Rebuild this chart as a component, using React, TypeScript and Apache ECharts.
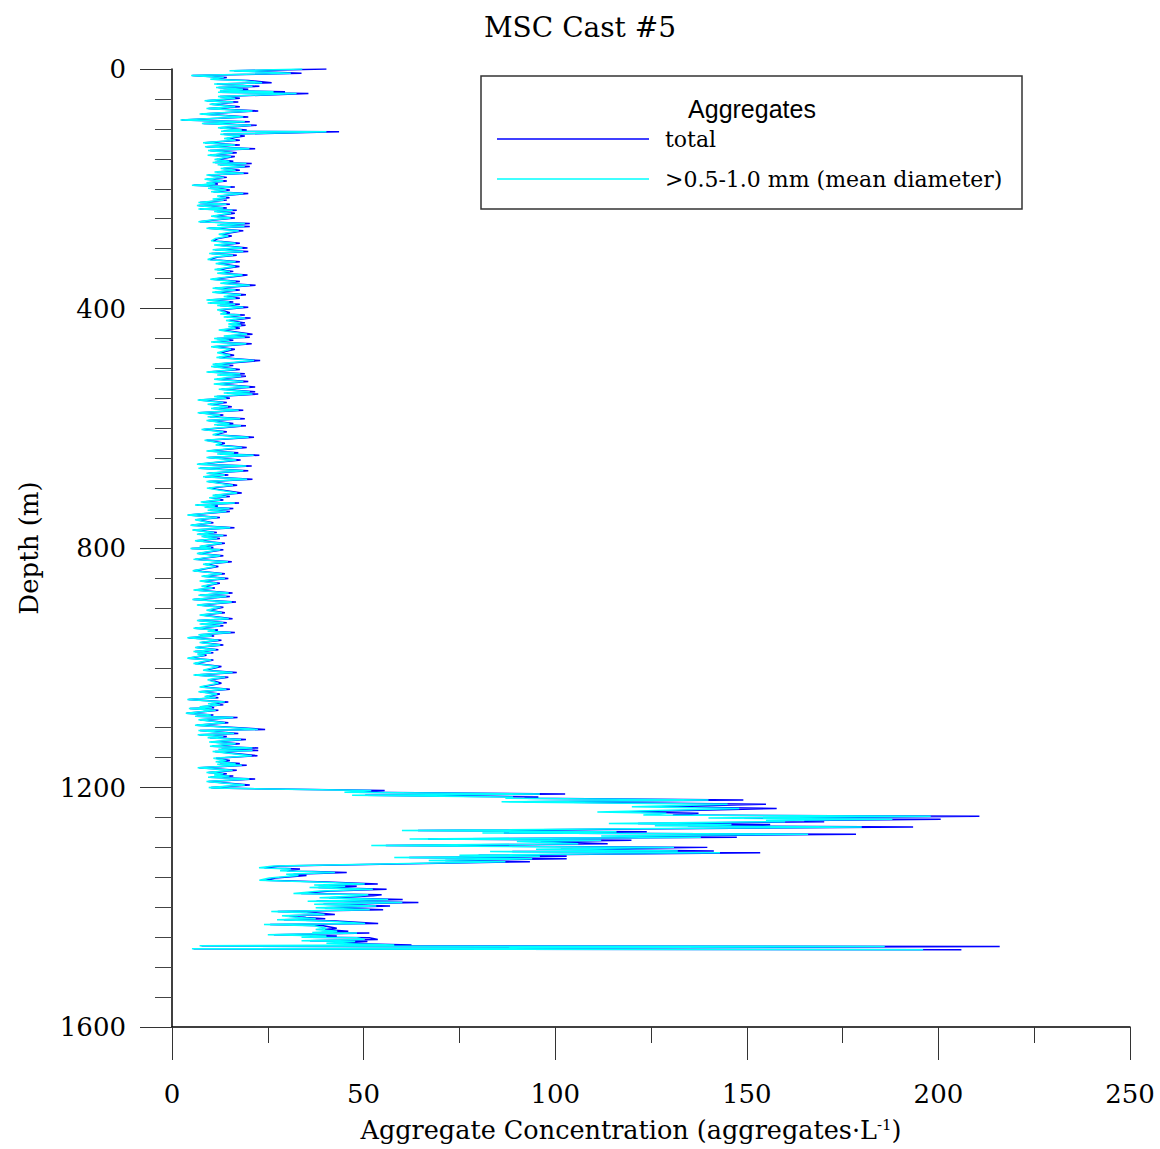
import React, { useEffect, useRef } from "react";
import * as echarts from "echarts";

// Depth of each sample (m)
const depthM = [
  0, 3, 7, 11, 14, 17, 19, 23, 25, 29,
  31, 34, 36, 38, 39, 41, 46, 49, 53, 55,
  59, 63, 66, 70, 75, 80, 85, 88, 91, 94,
  98, 102, 104, 105, 109, 112, 116, 119, 123, 127,
  130, 133, 136, 140, 144, 146, 151, 154, 156, 158,
  160, 163, 166, 169, 172, 174, 177, 181, 184, 187,
  190, 192, 194, 197, 199, 202, 205, 208, 212, 215,
  217, 219, 223, 226, 228, 232, 234, 236, 238, 241,
  246, 249, 252, 255, 258, 261, 263, 266, 270, 276,
  279, 283, 287, 291, 294, 299, 302, 305, 308, 311,
  314, 318, 322, 325, 330, 335, 338, 341, 344, 351,
  355, 358, 361, 366, 369, 373, 377, 380, 383, 386,
  389, 391, 393, 395, 398, 402, 407, 409, 411, 414,
  416, 420, 424, 426, 428, 430, 433, 436, 443, 446,
  448, 450, 453, 456, 459, 464, 468, 474, 478, 482,
  487, 493, 495, 497, 502, 506, 509, 511, 513, 518,
  522, 526, 531, 535, 539, 541, 543, 547, 550, 553,
  557, 560, 564, 567, 570, 574, 578, 581, 584, 587,
  592, 594, 596, 602, 606, 611, 615, 620, 625, 628,
  632, 638, 641, 643, 645, 649, 653, 660, 663, 667,
  671, 675, 678, 681, 685, 689, 695, 700, 708, 712,
  714, 716, 720, 723, 725, 728, 730, 732, 734, 737,
  739, 745, 749, 753, 758, 762, 766, 770, 774, 777,
  779, 781, 784, 788, 792, 797, 799, 801, 803, 809,
  813, 819, 823, 827, 831, 838, 843, 847, 851, 855,
  859, 864, 867, 870, 875, 879, 881, 886, 890, 895,
  899, 904, 908, 912, 918, 921, 925, 927, 930, 934,
  937, 939, 941, 945, 947, 950, 954, 958, 962, 966,
  970, 973, 975, 977, 979, 984, 987, 993, 998, 1004,
  1008, 1012, 1016, 1020, 1026, 1032, 1036, 1040, 1044, 1048,
  1050, 1053, 1057, 1060, 1062, 1065, 1067, 1068, 1071, 1076,
  1079, 1081, 1083, 1087, 1092, 1096, 1103, 1105, 1110, 1112,
  1115, 1117, 1120, 1124, 1127, 1131, 1134, 1136, 1138, 1140,
  1147, 1151, 1155, 1157, 1160, 1161, 1163, 1167, 1171, 1175,
  1177, 1179, 1181, 1183, 1186, 1190, 1196, 1200, 1201, 1205,
  1208, 1211, 1213, 1216, 1218, 1221, 1224, 1228, 1232, 1235,
  1241, 1243, 1246, 1248, 1251, 1253, 1255, 1257, 1260, 1262,
  1264, 1266, 1272, 1274, 1276, 1278, 1281, 1283, 1286, 1288,
  1290, 1294, 1297, 1300, 1303, 1306, 1307, 1309, 1313, 1315,
  1317, 1319, 1322, 1324, 1331, 1334, 1336, 1339, 1342, 1345,
  1347, 1351, 1355, 1358, 1361, 1363, 1365, 1367, 1370, 1373,
  1377, 1379, 1381, 1384, 1387, 1390, 1392, 1395, 1398, 1401,
  1404, 1407, 1409, 1412, 1414, 1417, 1419, 1421, 1423, 1427,
  1429, 1431, 1435, 1437, 1440, 1442, 1443, 1446, 1448, 1450,
  1451, 1454, 1456, 1457, 1460, 1463, 1464.5, 1465.5, 1469.5, 1471,
];

// Total aggregate concentration (aggregates per litre)
const totalAgg = [
  40.3, 16.2, 33.8, 5.3, 14.3, 10.8, 19.9, 26.0, 11.7, 22.8,
  12.1, 19.9, 13.4, 29.5, 12.5, 35.6, 12.5, 17.7, 9.0, 17.3,
  10.3, 17.7, 9.5, 22.5, 7.7, 19.9, 2.5, 20.3, 8.2, 22.1,
  12.5, 19.5, 13.4, 43.6, 13.4, 19.0, 14.3, 17.7, 8.6, 17.7,
  9.0, 21.7, 9.9, 16.9, 9.9, 16.4, 11.7, 16.0, 11.2, 20.8,
  12.5, 20.3, 13.4, 17.7, 11.7, 19.9, 9.5, 14.3, 9.0, 14.3,
  9.5, 12.0, 5.6, 16.4, 9.9, 15.1, 10.8, 19.9, 12.5, 15.0,
  11.2, 14.3, 7.3, 15.1, 6.9, 14.3, 7.3, 16.9, 11.7, 16.4,
  10.8, 16.4, 11.0, 7.3, 20.3, 12.5, 20.3, 9.5, 18.6, 12.9,
  15.6, 12.1, 10.8, 17.7, 11.7, 19.7, 11.2, 19.9, 10.3, 16.9,
  12.0, 9.9, 17.7, 12.1, 17.6, 11.8, 16.0, 12.5, 19.7, 10.6,
  17.7, 13.4, 21.8, 11.2, 17.7, 11.2, 19.3, 14.3, 17.7, 9.5,
  16.0, 9.9, 17.7, 12.5, 19.9, 12.5, 15.1, 13.4, 19.0, 14.3,
  20.5, 15.0, 19.0, 15.6, 19.2, 15.6, 17.7, 12.9, 21.0, 14.3,
  20.3, 11.7, 16.0, 10.8, 20.8, 10.8, 16.4, 12.5, 16.2, 12.3,
  23.0, 11.2, 16.0, 10.8, 17.7, 9.5, 19.0, 12.5, 19.3, 11.7,
  19.9, 11.5, 21.7, 12.9, 21.7, 14.3, 22.5, 11.7, 15.1, 7.1,
  14.3, 9.9, 15.6, 10.8, 18.6, 7.1, 13.4, 9.9, 19.0, 9.5,
  16.0, 11.7, 19.3, 8.2, 14.3, 11.2, 21.4, 9.0, 13.8, 12.1,
  19.5, 9.5, 17.3, 12.5, 22.8, 9.5, 17.9, 6.9, 20.8, 7.3,
  19.9, 9.5, 14.7, 8.6, 21.0, 9.5, 17.0, 9.7, 18.2, 11.2,
  15.1, 10.3, 13.4, 8.0, 17.5, 6.4, 12.0, 9.0, 16.0, 9.9,
  15.1, 4.3, 12.5, 6.4, 10.8, 5.1, 16.3, 5.6, 11.7, 6.9,
  14.3, 8.2, 12.5, 6.4, 13.8, 7.7, 10.8, 5.1, 13.4, 6.9,
  13.4, 6.0, 15.6, 8.6, 12.1, 5.7, 13.8, 8.2, 14.7, 7.7,
  12.5, 8.2, 11.2, 6.0, 15.8, 7.3, 15.1, 5.6, 16.7, 6.9,
  13.4, 9.5, 13.8, 7.7, 15.8, 6.9, 14.3, 7.7, 13.4, 6.0,
  12.0, 9.9, 16.4, 7.3, 11.0, 4.3, 12.9, 7.7, 13.4, 6.4,
  12.1, 6.0, 10.8, 7.0, 9.0, 4.3, 10.8, 6.0, 12.9, 8.6,
  16.9, 6.0, 14.7, 9.9, 12.9, 7.7, 15.1, 7.3, 12.5, 9.0,
  12.1, 4.3, 14.7, 10.0, 13.4, 7.7, 11.0, 4.7, 12.1, 3.8,
  10.8, 6.4, 17.1, 7.3, 14.7, 6.4, 24.3, 7.3, 17.3, 7.1,
  14.3, 9.9, 19.3, 10.3, 17.7, 10.5, 22.5, 12.9, 22.5, 11.2,
  22.3, 11.5, 15.1, 12.1, 17.7, 12.5, 19.5, 7.1, 16.9, 9.5,
  14.3, 11.7, 16.0, 10.0, 21.7, 9.5, 20.3, 10.2, 11.0, 55.5,
  48.0, 102.6, 50.4, 95.6, 92.0, 149.1, 91.7, 155.0, 127.3, 157.8,
  118.2, 137.4, 130.7, 210.7, 149.3, 200.6, 165.0, 170.2, 121.6, 156.1,
  134.6, 193.4, 64.2, 123.9, 86.6, 178.5, 120.0, 147.4, 66.8, 119.9,
  96.2, 113.7, 55.8, 139.7, 101.5, 141.4, 88.8, 153.5, 80.0, 103.0,
  61.9, 103.0, 71.3, 93.4, 28.2, 24.1, 33.4, 30.0, 45.6, 31.7,
  35.1, 27.0, 24.3, 40.3, 53.7, 39.5, 48.2, 38.2, 56.0, 41.2,
  33.7, 54.7, 52.5, 41.0, 60.2, 37.7, 64.3, 39.5, 56.9, 39.9,
  55.1, 27.6, 37.3, 42.5, 30.6, 35.0, 40.0, 29.2, 42.7, 53.8,
  25.6, 39.5, 43.0, 39.9, 46.0, 39.0, 51.5, 26.6, 43.0, 36.0,
  51.5, 53.7, 36.0, 51.0, 43.0, 62.5, 7.7, 216.0, 5.6, 206.0,
];

// >0.5-1.0 mm (mean diameter) aggregate concentration
const midAgg = [
  34, 15, 31, 5, 13.5, 10, 18.5, 23.5, 11, 21,
  11.5, 18.5, 12.5, 26.5, 12, 32.5, 12, 16.5, 8.5, 16,
  9.8, 16.5, 9, 21, 7.2, 18.6, 2.2, 19, 7.8, 20.6,
  12, 18.2, 12.8, 40.3, 12.6, 17.8, 13.6, 16.6, 8.1, 16.5,
  8.6, 20.2, 9.4, 15.8, 9.3, 15.4, 11.1, 15, 10.6, 19.4,
  11.9, 19, 12.7, 16.6, 11.1, 18.7, 9, 13.5, 8.5, 13.4,
  9, 11.3, 5.2, 15.3, 9.4, 14.2, 10.2, 18.6, 11.8, 14.1,
  10.6, 13.5, 6.9, 14.2, 6.5, 13.4, 6.9, 15.8, 11, 15.4,
  10.2, 15.3, 10.4, 6.9, 19, 11.8, 18.9, 9, 17.4, 12.2,
  14.7, 11.4, 10.2, 16.6, 11, 18.4, 10.6, 18.6, 9.7, 15.9,
  11.3, 9.3, 16.6, 11.4, 16.5, 11.1, 15.1, 11.8, 18.4, 10,
  16.6, 12.6, 20.3, 10.6, 16.6, 10.5, 18, 13.5, 16.6, 9,
  15, 9.3, 16.5, 11.8, 18.6, 11.8, 14.2, 12.6, 17.8, 13.5,
  19.1, 14.1, 17.8, 14.7, 18, 14.7, 16.6, 12.2, 19.6, 13.5,
  19, 11, 15, 10.2, 19.4, 10.2, 15.4, 11.8, 15.2, 11.6,
  21.4, 10.6, 15, 10.2, 16.6, 9, 17.8, 11.8, 18, 11,
  18.6, 10.9, 20.2, 12.2, 20.3, 13.5, 21, 11, 14.2, 6.7,
  13.4, 9.3, 14.6, 10.2, 17.4, 6.7, 12.6, 9.3, 17.8, 9,
  15, 11, 18, 7.7, 13.4, 10.6, 20, 8.5, 13, 11.4,
  18.2, 9, 16.2, 11.8, 21.3, 9, 16.8, 6.5, 19.4, 6.9,
  18.6, 9, 13.8, 8.1, 19.6, 9, 15.9, 9.1, 17, 10.6,
  14.2, 9.7, 12.6, 7.5, 16.4, 6, 11.3, 8.5, 15, 9.3,
  14.2, 4, 11.8, 6, 10.2, 4.8, 15.2, 5.3, 11, 6.5,
  13.4, 7.7, 11.8, 6, 13, 7.2, 10.2, 4.8, 12.6, 6.5,
  12.6, 5.6, 14.6, 8.1, 11.4, 5.4, 13, 7.7, 13.8, 7.2,
  11.8, 7.7, 10.6, 5.6, 14.8, 6.9, 14.2, 5.3, 15.6, 6.5,
  12.6, 9, 13, 7.2, 14.8, 6.5, 13.4, 7.2, 12.6, 5.6,
  11.3, 9.3, 15.3, 6.9, 10.4, 4, 12.1, 7.2, 12.6, 6,
  11.4, 5.6, 10.2, 6.6, 8.5, 4, 10.2, 5.6, 12.1, 8.1,
  15.8, 5.6, 13.8, 9.3, 12.1, 7.2, 14.2, 6.9, 11.8, 8.5,
  11.4, 4, 13.8, 9.4, 12.6, 7.2, 10.4, 4.4, 11.4, 3.6,
  10.2, 6, 16, 6.9, 13.8, 6, 22.4, 6.9, 16.2, 6.7,
  13.4, 9.3, 18, 9.7, 16.6, 9.9, 21, 12.1, 21, 10.6,
  20.8, 10.8, 14.2, 11.4, 16.6, 11.8, 18.2, 6.7, 15.8, 9,
  13.4, 11, 15, 9.4, 20.2, 9, 19, 9.6, 10.4, 52,
  45, 96, 47, 89, 87, 140, 86, 145, 120, 148,
  111, 129, 123, 198, 140, 188, 155, 160, 114, 146,
  126, 180, 60, 116, 81, 166, 112, 138, 62, 112,
  90, 106, 52, 131, 95, 132, 83, 143, 75, 96,
  58, 94, 67, 87, 26.5, 22.7, 31, 28.2, 42.5, 29.8,
  33, 25.4, 22.8, 37.8, 50.3, 37.1, 45.2, 35.9, 52.4, 38.7,
  31.7, 51.2, 49.2, 38.5, 56.4, 35.4, 60.1, 37.1, 53.3, 37.5,
  51.6, 25.9, 35, 39.8, 28.7, 32.9, 37.5, 27.4, 40, 50.4,
  24, 37.1, 40.3, 37.5, 43.1, 36.6, 48.3, 25, 40.3, 33.8,
  48.2, 50.3, 33.8, 47.8, 40.3, 58, 7.2, 186, 5.2, 196,
];

const seriesNames = ["total", ">0.5-1.0 mm (mean diameter)"];
const seriesColors = ["#0000ff", "#00ffff"];

const SERIF = "'DejaVu Serif', 'Liberation Serif', serif";

export default function App() {
  const ref = useRef<HTMLDivElement>(null);

  useEffect(() => {
    document.body.style.margin = "0";
    const chart = echarts.init(ref.current!, null, { renderer: "svg" });
    const totalData = depthM.map((d, i) => [totalAgg[i], d]);
    const midData = depthM.map((d, i) => [midAgg[i], d]);

    chart.setOption({
      animation: false,
      backgroundColor: "#ffffff",
      title: {
        text: "MSC Cast #5",
        left: "center",
        top: 13,
        padding: 0,
        textStyle: {
          fontFamily: SERIF,
          fontSize: 28,
          fontWeight: "normal",
          color: "#000",
        },
      },
      grid: { left: 172, right: 30, top: 69, bottom: 122, containLabel: false },
      xAxis: {
        type: "value",
        min: 0,
        max: 250,
        interval: 50,
        position: "bottom",
        name: "Aggregate Concentration (aggregates·L{sup|-1})",
        nameLocation: "middle",
        nameGap: 90,
        nameTextStyle: {
          fontFamily: SERIF,
          fontSize: 25.5,
          color: "#000",
          padding: [0, 40, 0, 0],
          rich: {
            sup: {
              fontFamily: SERIF,
              fontSize: 15,
              color: "#000",
              verticalAlign: "top",
              padding: [0, 0, 10, 0],
            },
          },
        },
        axisLine: { show: true, onZero: false, lineStyle: { color: "#000", width: 1.5 } },
        axisTick: { show: true, length: 33, lineStyle: { color: "#333", width: 1 } },
        minorTick: { show: true, splitNumber: 2, length: 16, lineStyle: { color: "#333", width: 1 } },
        axisLabel: { margin: 54, fontFamily: SERIF, fontSize: 26, color: "#000" },
        splitLine: { show: false },
        minorSplitLine: { show: false },
      },
      yAxis: {
        type: "value",
        inverse: true,
        min: 0,
        max: 1600,
        interval: 400,
        name: "Depth (m)",
        nameLocation: "middle",
        nameRotate: 90,
        nameGap: 130,
        nameTextStyle: { fontFamily: SERIF, fontSize: 26, color: "#000" },
        axisLine: { show: true, onZero: false, lineStyle: { color: "#000", width: 1.5 } },
        axisTick: { show: true, length: 32, lineStyle: { color: "#333", width: 1 } },
        minorTick: { show: true, splitNumber: 8, length: 17, lineStyle: { color: "#444", width: 1 } },
        axisLabel: {
          margin: 46,
          fontFamily: SERIF,
          fontSize: 26,
          color: "#000",
          formatter: (v: number) => String(v),
        },
        splitLine: { show: false },
        minorSplitLine: { show: false },
      },
      legend: {
        data: seriesNames,
        orient: "vertical",
        left: 497,
        top: 126,
        padding: 0,
        icon: "rect",
        itemWidth: 152,
        itemHeight: 1.5,
        itemGap: 14,
        z: 6,
        textStyle: {
          fontFamily: SERIF,
          fontSize: 22,
          color: "#000",
          lineHeight: 26,
          padding: [0, 0, 0, 11],
        },
      },
      graphic: [
        {
          type: "rect",
          z: 4,
          shape: { x: 481, y: 76, width: 541, height: 133 },
          style: { fill: "#ffffff", stroke: "#333", lineWidth: 1.5 },
        },
        {
          type: "text",
          z: 5,
          x: 752,
          y: 109,
          style: {
            text: "Aggregates",
            fontFamily: "'Liberation Sans', Arial, sans-serif",
            fontSize: 25,
            fill: "#000",
            align: "center",
            verticalAlign: "middle",
          },
        },
      ],
      series: [
        {
          name: seriesNames[0],
          type: "line",
          data: totalData,
          symbol: "none",
          lineStyle: { color: seriesColors[0], width: 1.5 },
          itemStyle: { color: seriesColors[0] },
        },
        {
          name: seriesNames[1],
          type: "line",
          data: midData,
          symbol: "none",
          lineStyle: { color: seriesColors[1], width: 1.5 },
          itemStyle: { color: seriesColors[1] },
        },
      ],
    });

    return () => chart.dispose();
  }, []);

  return <div ref={ref} style={{ width: 1160, height: 1149 }} />;
}
